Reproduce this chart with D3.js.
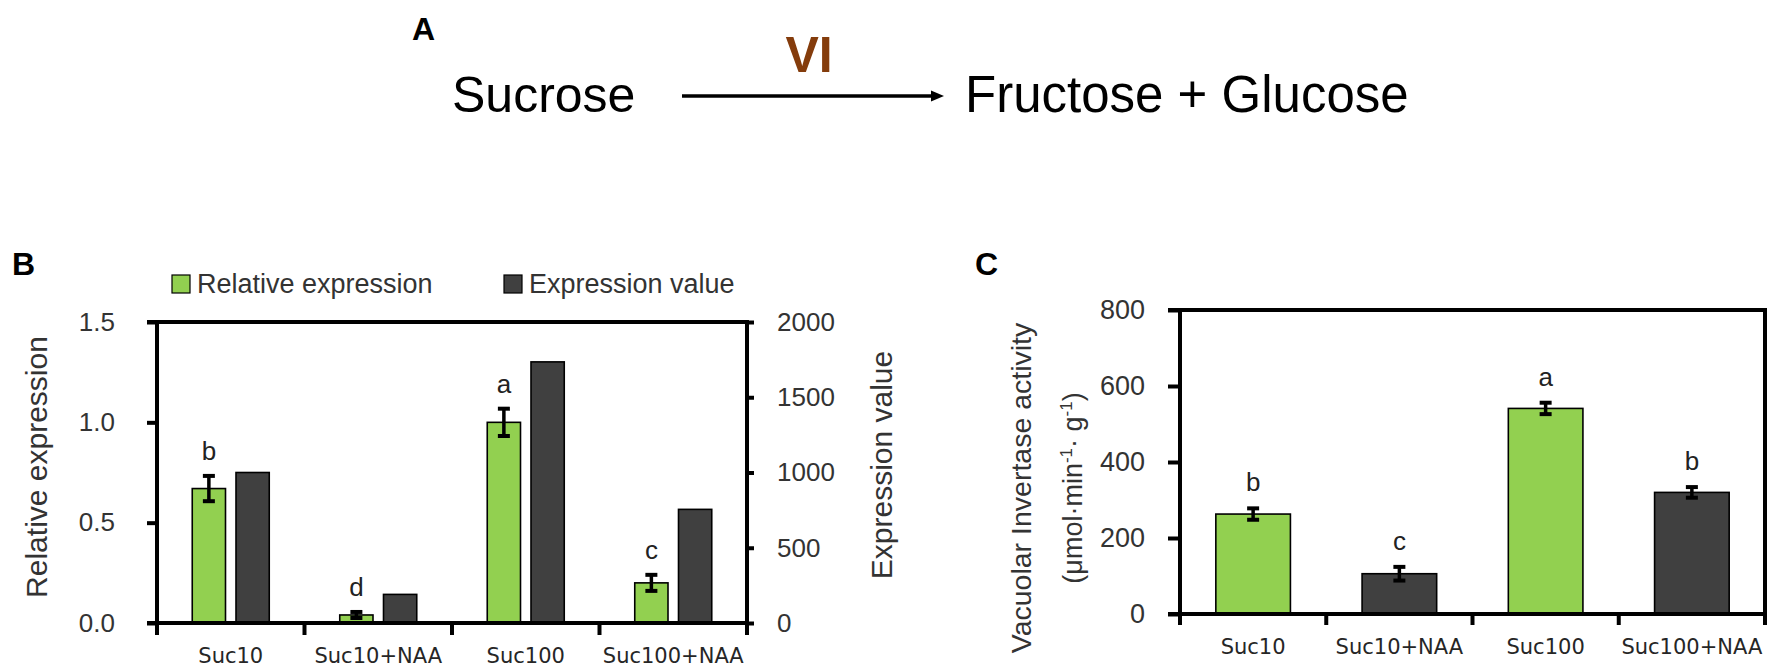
<!DOCTYPE html>
<html><head><meta charset="utf-8">
<script src="https://cdn.jsdelivr.net/npm/d3@7"></script>
<style>body{margin:0;background:#fff}svg{display:block}</style>
</head><body>
<svg id="chart" width="1775" height="667"></svg>
<script>
// ---------- data ----------
const categories = ["Suc10", "Suc10+NAA", "Suc100", "Suc100+NAA"];
const relExpression = [0.67, 0.04, 1.0, 0.2];
const relExpressionErr = [0.063, 0.015, 0.068, 0.04];
const relLetters = ["b", "d", "a", "c"];
const expressionValue = [1000, 190, 1735, 755];
const viActivity = [263, 106, 541, 320];
const viActivityErr = [15, 18, 15, 14];
const viLetters = ["b", "c", "a", "b"];
const leftTicksB = [0, 0.5, 1.0, 1.5];
const rightTicksB = [0, 500, 1000, 1500, 2000];
const ticksC = [0, 200, 400, 600, 800];
const legendLabels = ["Relative expression", "Expression value"];

// ---------- style ----------
const GREEN = "#92D050", DARK = "#404040", TXT = "#333";
const FONT = "'Liberation Sans', Arial, sans-serif";
const CATFONT = "'DejaVu Sans', sans-serif";
const AXW = 4;

const svg = d3.select("#chart").style("font-family", FONT);

// ---------- Panel A ----------
const gA = svg.append("g");
gA.append("text").attr("x", 412).attr("y", 40).attr("font-size", 32).attr("font-weight", "bold").text("A");
gA.append("text").attr("x", 452).attr("y", 112).attr("font-size", 50).text("Sucrose");
gA.append("text").attr("x", 965).attr("y", 112).attr("font-size", 51).text("Fructose + Glucose");
gA.append("text").attr("x", 809).attr("y", 72).attr("font-size", 50).attr("font-weight", "bold")
  .attr("fill", "#843C0C").attr("text-anchor", "middle").text("VI");
gA.append("line").attr("x1", 682).attr("x2", 934).attr("y1", 96).attr("y2", 96)
  .attr("stroke", "#000").attr("stroke-width", 3.4);
gA.append("path").attr("d", "M931,90.5 L944,96 L931,101.5 Z").attr("fill", "#000");

// ---------- helper ----------
function errorBar(g, cx, yTop, yBot, capW) {
  g.append("line").attr("x1", cx).attr("x2", cx).attr("y1", yTop).attr("y2", yBot)
    .attr("stroke", "#000").attr("stroke-width", 3.5);
  [yTop, yBot].forEach(y => g.append("line").attr("x1", cx - capW / 2).attr("x2", cx + capW / 2)
    .attr("y1", y).attr("y2", y).attr("stroke", "#000").attr("stroke-width", 4));
}
function styleAxis(g) {
  g.select(".domain").remove();
  g.selectAll(".tick line").attr("stroke", "#000").attr("stroke-width", AXW);
  g.selectAll(".tick text").attr("fill", TXT).attr("font-family", FONT);
}
const frame = (g, l, r, t, b, tl) => {
  const ln = (x1, x2, y1, y2) => g.append("line").attr("x1", x1).attr("x2", x2).attr("y1", y1).attr("y2", y2)
    .attr("stroke", "#000").attr("stroke-width", AXW);
  ln(tl, r + AXW / 2, t, t);
  ln(tl, r + AXW / 2, b, b);
  ln(l, l, t - AXW / 2, b + AXW / 2);
  ln(r, r, t - AXW / 2, b + AXW / 2);
};

// ---------- Panel B ----------
const B = { left: 157, right: 747, top: 322, bottom: 623 };
const gB = svg.append("g");
gB.append("text").attr("x", 12).attr("y", 275).attr("font-size", 32).attr("font-weight", "bold").text("B");

const xB = d3.scaleBand().domain(categories).range([B.left, B.right]);
const yL = d3.scaleLinear().domain([0, 1.5]).range([B.bottom, B.top]);
const yR = d3.scaleLinear().domain([0, 2000]).range([B.bottom, B.top]);
const xSub = d3.scaleBand().domain(["rel", "val"])
  .range([xB.bandwidth() / 2 - 38.5, xB.bandwidth() / 2 + 38.5]).paddingInner(0.24);

categories.forEach((c, i) => {
  const x0 = xB(c);
  gB.append("rect").attr("x", x0 + xSub("rel")).attr("width", xSub.bandwidth())
    .attr("y", yL(relExpression[i])).attr("height", yL(0) - yL(relExpression[i]))
    .attr("fill", GREEN).attr("stroke", "#000").attr("stroke-width", 1.6);
  gB.append("rect").attr("x", x0 + xSub("val")).attr("width", xSub.bandwidth())
    .attr("y", yR(expressionValue[i])).attr("height", yR(0) - yR(expressionValue[i]))
    .attr("fill", DARK).attr("stroke", "#000").attr("stroke-width", 1.6);
  const cx = x0 + xSub("rel") + xSub.bandwidth() / 2;
  const top = yL(relExpression[i] + relExpressionErr[i]);
  errorBar(gB, cx, top, yL(relExpression[i] - relExpressionErr[i]), 12);
  gB.append("text").attr("x", cx).attr("y", top - 16).attr("text-anchor", "middle")
    .attr("font-size", 26).attr("fill", "#222").text(relLetters[i]);
});

const axL = gB.append("g").attr("transform", `translate(${B.left},0)`)
  .call(d3.axisLeft(yL).tickValues(leftTicksB).tickFormat(d3.format(".1f")).tickSize(10).tickPadding(32));
styleAxis(axL); axL.selectAll(".tick text").attr("font-size", 26);
const axR = gB.append("g").attr("transform", `translate(${B.right},0)`)
  .call(d3.axisRight(yR).tickValues(rightTicksB).tickFormat(d3.format("d")).tickSize(7).tickPadding(23));
styleAxis(axR); axR.selectAll(".tick text").attr("font-size", 26);
const axB = gB.append("g").attr("transform", `translate(0,${B.bottom})`)
  .call(d3.axisBottom(xB).tickSize(0).tickPadding(25));
axB.select(".domain").remove();
axB.selectAll(".tick text").attr("font-family", CATFONT).attr("font-size", 21).attr("fill", "#262626");
frame(gB, B.left, B.right, B.top, B.bottom, B.left - 10);
const edgesB = categories.map(c => xB(c)).concat([B.right]);
gB.selectAll(".btick").data(edgesB).join("line").attr("x1", d => d).attr("x2", d => d)
  .attr("y1", B.bottom).attr("y2", B.bottom + 12).attr("stroke", "#000").attr("stroke-width", AXW);

gB.append("text").attr("transform", "translate(47,467) rotate(-90)").attr("text-anchor", "middle")
  .attr("font-size", 30).attr("fill", TXT).text("Relative expression");
gB.append("text").attr("transform", "translate(892,465) rotate(-90)").attr("text-anchor", "middle")
  .attr("font-size", 30).attr("fill", TXT).text("Expression value");

const legend = [{ x: 172, c: GREEN }, { x: 504, c: DARK }];
legend.forEach((l, i) => {
  gB.append("rect").attr("x", l.x).attr("y", 275).attr("width", 18).attr("height", 18)
    .attr("fill", l.c).attr("stroke", "#000").attr("stroke-width", 1.2);
  gB.append("text").attr("x", l.x + 25).attr("y", 293).attr("font-size", 27).attr("fill", TXT).text(legendLabels[i]);
});

// ---------- Panel C ----------
const C = { left: 1180, right: 1765, top: 310, bottom: 614 };
const gC = svg.append("g");
gC.append("text").attr("x", 975).attr("y", 275).attr("font-size", 32).attr("font-weight", "bold").text("C");
const xC = d3.scaleBand().domain(categories).range([C.left, C.right]);
const yC = d3.scaleLinear().domain([0, 800]).range([C.bottom, C.top]);
const colorC = d3.scaleOrdinal().domain(categories).range([GREEN, DARK, GREEN, DARK]);
const barW = xC.bandwidth() * 0.51;

categories.forEach((c, i) => {
  const cx = xC(c) + xC.bandwidth() / 2;
  gC.append("rect").attr("x", cx - barW / 2).attr("width", barW)
    .attr("y", yC(viActivity[i])).attr("height", yC(0) - yC(viActivity[i]))
    .attr("fill", colorC(c)).attr("stroke", "#000").attr("stroke-width", 1.6);
  const top = yC(viActivity[i] + viActivityErr[i]);
  errorBar(gC, cx, top, yC(viActivity[i] - viActivityErr[i]), 12);
  gC.append("text").attr("x", cx).attr("y", top - 17).attr("text-anchor", "middle")
    .attr("font-size", 26).attr("fill", "#222").text(viLetters[i]);
});

const axC = gC.append("g").attr("transform", `translate(${C.left},0)`)
  .call(d3.axisLeft(yC).tickValues(ticksC).tickFormat(d3.format("d")).tickSize(12).tickPadding(23));
styleAxis(axC); axC.selectAll(".tick text").attr("font-size", 27);
const axCB = gC.append("g").attr("transform", `translate(0,${C.bottom})`)
  .call(d3.axisBottom(xC).tickSize(0).tickPadding(25));
axCB.select(".domain").remove();
axCB.selectAll(".tick text").attr("font-family", CATFONT).attr("font-size", 21).attr("fill", "#262626");
frame(gC, C.left, C.right, C.top, C.bottom, C.left - 12);
const edgesC = categories.map(c => xC(c)).concat([C.right]);
gC.selectAll(".ctick").data(edgesC).join("line").attr("x1", d => d).attr("x2", d => d)
  .attr("y1", C.bottom).attr("y2", C.bottom + 11).attr("stroke", "#000").attr("stroke-width", AXW);

gC.append("text").attr("transform", "translate(1031,488) rotate(-90)").attr("text-anchor", "middle")
  .attr("font-size", 28.5).attr("fill", TXT).text("Vacuolar Invertase activity");
const t2 = gC.append("text").attr("transform", "translate(1082,488) rotate(-90)").attr("text-anchor", "middle")
  .attr("font-size", 27).attr("fill", TXT);
t2.append("tspan").text("(μmol·min");
t2.append("tspan").attr("dy", -10).attr("font-size", 17).text("-1");
t2.append("tspan").attr("dy", 10).text("· g");
t2.append("tspan").attr("dy", -10).attr("font-size", 17).text("-1");
t2.append("tspan").attr("dy", 10).text(")");
</script>
</body></html>
